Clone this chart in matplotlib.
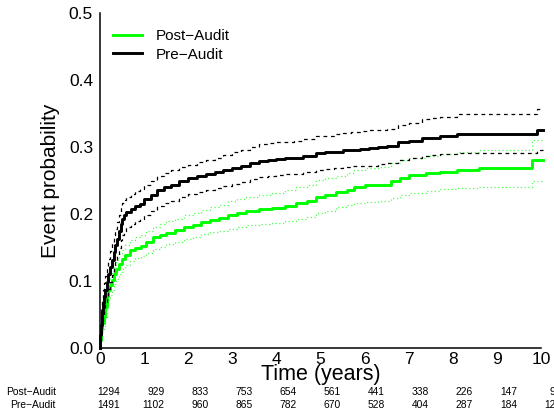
import matplotlib
matplotlib.use("Agg")
import matplotlib.pyplot as plt
import matplotlib.transforms as mtransforms

plt.rcParams['font.family'] = ['Liberation Sans', 'DejaVu Sans']

# cumulative incidence, Post-Audit group
t_post = [0, 0.01, 0.03, 0.05, 0.08, 0.11, 0.15, 0.19, 0.23, 0.27,
          0.32, 0.37, 0.42, 0.5, 0.57, 0.68, 0.8, 0.92, 1.05, 1.2,
          1.35, 1.5, 1.7, 1.9, 2.1, 2.3, 2.5, 2.7, 2.9, 3.1,
          3.3, 3.6, 3.9, 4.2, 4.45, 4.7, 4.9, 5.1, 5.35, 5.6,
          5.75, 6.0, 6.3, 6.6, 6.8, 7.0, 7.4, 7.7, 8.1, 8.6,
          9.8, 10.05]
post_est = [0, 0.012, 0.028, 0.037, 0.047, 0.061, 0.077, 0.086, 0.094, 0.101,
            0.11, 0.118, 0.126, 0.133, 0.139, 0.146, 0.149, 0.152, 0.158, 0.165,
            0.168, 0.172, 0.176, 0.18, 0.184, 0.188, 0.191, 0.194, 0.198, 0.202,
            0.204, 0.207, 0.209, 0.212, 0.216, 0.219, 0.226, 0.229, 0.233, 0.236,
            0.241, 0.243, 0.244, 0.249, 0.253, 0.258, 0.261, 0.263, 0.266, 0.269,
            0.280, 0.280]
post_hi = [0, 0.02, 0.038, 0.049, 0.061, 0.076, 0.093, 0.1, 0.106, 0.115,
           0.124, 0.132, 0.14, 0.147, 0.154, 0.161, 0.165, 0.169, 0.175, 0.181,
           0.185, 0.189, 0.193, 0.198, 0.202, 0.206, 0.21, 0.214, 0.22, 0.223,
           0.225, 0.229, 0.232, 0.236, 0.241, 0.244, 0.251, 0.254, 0.257, 0.261,
           0.266, 0.268, 0.27, 0.276, 0.28, 0.284, 0.287, 0.289, 0.293, 0.296,
           0.31, 0.31]
post_lo = [0, 0.005, 0.018, 0.025, 0.033, 0.046, 0.061, 0.071, 0.079, 0.087,
           0.095, 0.103, 0.111, 0.118, 0.124, 0.13, 0.134, 0.137, 0.142, 0.148,
           0.151, 0.155, 0.158, 0.162, 0.166, 0.17, 0.173, 0.175, 0.178, 0.18,
           0.183, 0.185, 0.187, 0.19, 0.193, 0.196, 0.202, 0.205, 0.21, 0.213,
           0.216, 0.218, 0.22, 0.224, 0.228, 0.232, 0.235, 0.237, 0.239, 0.241,
           0.249, 0.249]

# cumulative incidence, Pre-Audit group
t_pre = [0, 0.01, 0.02, 0.04, 0.06, 0.08, 0.11, 0.15, 0.19, 0.23,
         0.27, 0.31, 0.35, 0.39, 0.43, 0.47, 0.5, 0.55, 0.6, 0.7,
         0.8, 0.9, 1.0, 1.15, 1.3, 1.45, 1.6, 1.8, 2.0, 2.2,
         2.4, 2.6, 2.8, 3.0, 3.2, 3.4, 3.6, 3.8, 4.0, 4.2,
         4.4, 4.6, 4.9, 5.1, 5.3, 5.5, 5.7, 5.9, 6.1, 6.3,
         6.5, 6.75, 7.0, 7.3, 7.5, 7.7, 8.1, 9.9, 10.05]
pre_est = [0, 0.02, 0.035, 0.057, 0.067, 0.076, 0.087, 0.098, 0.11, 0.121,
           0.132, 0.143, 0.153, 0.163, 0.174, 0.185, 0.192, 0.198, 0.203, 0.208,
           0.212, 0.215, 0.222, 0.229, 0.236, 0.240, 0.244, 0.249, 0.253, 0.256,
           0.259, 0.262, 0.265, 0.269, 0.272, 0.276, 0.279, 0.281, 0.282, 0.283,
           0.284, 0.287, 0.291, 0.292, 0.293, 0.295, 0.296, 0.297, 0.298, 0.300,
           0.302, 0.307, 0.309, 0.313, 0.314, 0.316, 0.320, 0.326, 0.326]
pre_hi = [0, 0.03, 0.048, 0.075, 0.087, 0.097, 0.108, 0.12, 0.133, 0.145,
          0.157, 0.168, 0.178, 0.188, 0.199, 0.21, 0.216, 0.221, 0.226, 0.23,
          0.234, 0.237, 0.243, 0.25, 0.257, 0.261, 0.265, 0.27, 0.273, 0.277,
          0.281, 0.284, 0.288, 0.293, 0.296, 0.3, 0.304, 0.306, 0.307, 0.308,
          0.309, 0.312, 0.316, 0.317, 0.319, 0.321, 0.323, 0.324, 0.325, 0.326,
          0.327, 0.333, 0.336, 0.342, 0.343, 0.345, 0.349, 0.357, 0.357]
pre_lo = [0, 0.01, 0.022, 0.04, 0.048, 0.056, 0.066, 0.077, 0.088, 0.098,
          0.109, 0.119, 0.129, 0.139, 0.15, 0.161, 0.168, 0.174, 0.18, 0.185,
          0.19, 0.193, 0.198, 0.205, 0.212, 0.216, 0.22, 0.225, 0.23, 0.233,
          0.236, 0.239, 0.242, 0.245, 0.248, 0.252, 0.255, 0.257, 0.258, 0.259,
          0.26, 0.263, 0.266, 0.267, 0.268, 0.27, 0.271, 0.272, 0.272, 0.274,
          0.276, 0.281, 0.283, 0.287, 0.288, 0.289, 0.291, 0.295, 0.295]

# numbers at risk
risk_times = [0, 1, 2, 3, 4, 5, 6, 7, 8, 9, 10]
risk_post = [1294, 929, 833, 753, 654, 561, 441, 338, 226, 147, 91]
risk_pre = [1491, 1102, 960, 865, 782, 670, 528, 404, 287, 184, 121]

green = '#00ff00'

fig = plt.figure(figsize=(5.54, 4.16), dpi=100)
ax = fig.add_axes([100 / 554, 68 / 416, 441 / 554, 335 / 416])

ax.step(t_post, post_est, where='post', color=green, lw=2.1, clip_on=False,
        label='Post\u2212Audit')
ax.step(t_post, post_hi, where='post', color=green, lw=0.9, ls=(0, (1, 2)), alpha=0.7,
        clip_on=False)
ax.step(t_post, post_lo, where='post', color=green, lw=0.9, ls=(0, (1, 2)), alpha=0.7,
        clip_on=False)

ax.step(t_pre, pre_est, where='post', color='black', lw=2.1, clip_on=False,
        label='Pre\u2212Audit')
ax.step(t_pre, pre_hi, where='post', color='black', lw=0.9, ls=(0, (3, 3)), clip_on=False)
ax.step(t_pre, pre_lo, where='post', color='black', lw=0.9, ls=(0, (3, 3)), clip_on=False)

ax.set_xlim(0, 10)
ax.set_ylim(0, 0.5)
ax.set_xticks(range(11))
ax.set_yticks([0, 0.1, 0.2, 0.3, 0.4, 0.5])
ax.set_yticklabels(['0.0', '0.1', '0.2', '0.3', '0.4', '0.5'])
ax.tick_params(length=0, labelsize=12.5)
ax.tick_params(axis='y', pad=5)
ax.tick_params(axis='x', pad=3)

for s in ['top', 'right']:
    ax.spines[s].set_visible(False)
ax.spines['left'].set_linewidth(1.1)
ax.spines['bottom'].set_linewidth(1.1)

ax.set_ylabel('Event probability', fontsize=15, labelpad=6)
ax.set_xlabel('Time (years)', fontsize=15.5, labelpad=-2)

ax.legend(loc='upper left', bbox_to_anchor=(0.03, 0.952), frameon=False, fontsize=11,
          handlelength=1.9, handletextpad=0.9, labelspacing=0.31, borderpad=0,
          borderaxespad=0)

# numbers-at-risk rows below the axis
trans = mtransforms.blended_transform_factory(ax.transData, fig.transFigure)
rows = [('Post\u2212Audit', risk_post, 1 - 391.7 / 416),
        ('Pre\u2212Audit', risk_pre, 1 - 405 / 416)]
for name, counts, yrow in rows:
    fig.text(56 / 554, yrow, name, ha='right', va='center', fontsize=7.4)
    for t, n in zip(risk_times, counts):
        ax.text(t + 0.46, yrow, str(n), transform=trans, ha='right', va='center',
                fontsize=7.4, clip_on=False)

fig.savefig('out.png', dpi=100)
